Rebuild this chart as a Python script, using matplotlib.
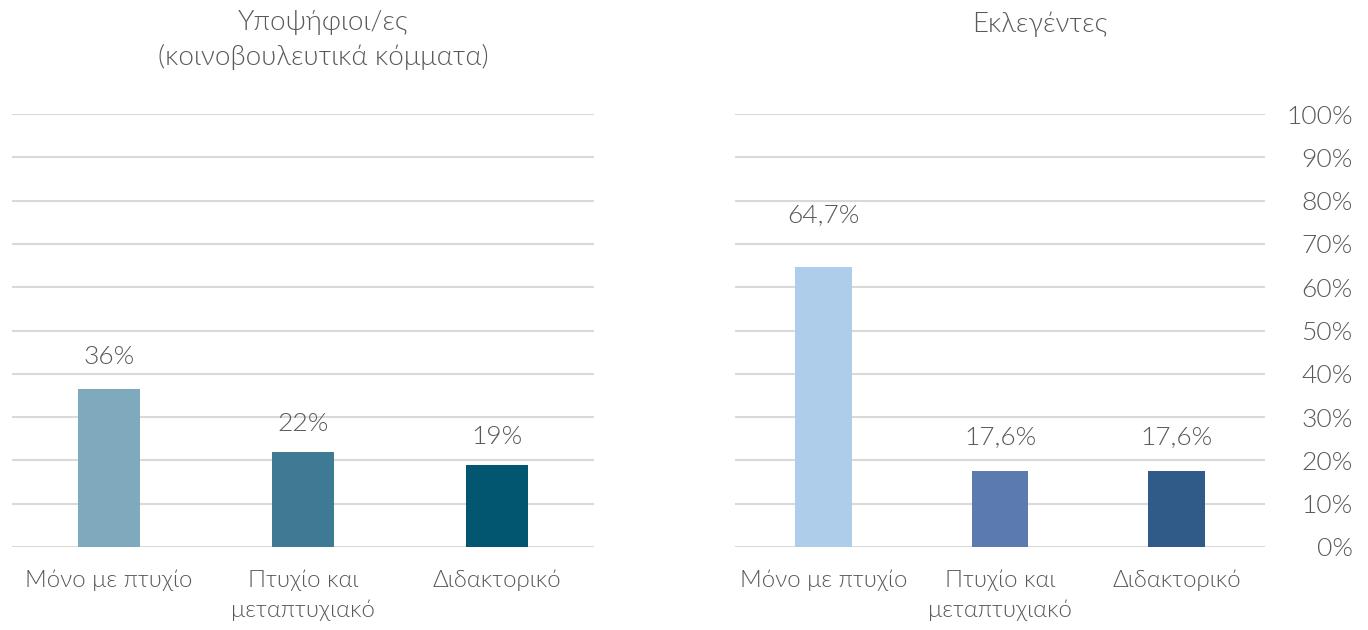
import matplotlib
matplotlib.use("Agg")
import matplotlib.pyplot as plt

categories = ["Μόνο με πτυχίο", "Πτυχίο και\nμεταπτυχιακό", "Διδακτορικό"]
candidates = [36.5, 22.0, 19.0]
candidate_labels = ["36%", "22%", "19%"]
elected = [64.7, 17.6, 17.6]
elected_labels = ["64,7%", "17,6%", "17,6%"]
yticks = [0, 10, 20, 30, 40, 50, 60, 70, 80, 90, 100]
ytick_labels = [f"{v}%" for v in yticks]
title_left = "Υποψήφιοι/ες\n(κοινοβουλευτικά κόμματα)"
title_right = "Εκλεγέντες"

colors_left = ["#7FA9BC", "#3E7A94", "#02566F"]
colors_right = ["#ADCDEB", "#5B7BAF", "#305B88"]

plt.rcParams['font.family'] = ['Lato', 'Noto Sans', 'DejaVu Sans']
W = 300
TXT = "#595959"
GRID = "#D9D9D9"

fig = plt.figure(figsize=(13.68, 6.3), dpi=100)
ax1 = fig.add_axes([12/1368, 83/630, 582/1368, 433/630])
ax2 = fig.add_axes([735/1368, 83/630, 530/1368, 433/630])

def style(ax, vals, labels, colors, width, offsets):
    x = list(range(len(vals)))
    ax.bar(x, vals, width=width, color=colors, zorder=3)
    ax.set_xlim(-0.5, len(vals) - 0.5)
    ax.set_ylim(0, 100)
    ax.set_yticks(yticks)
    ax.grid(axis='y', color=GRID, linewidth=1.5, zorder=0)
    ax.set_axisbelow(True)
    for s in ax.spines.values():
        s.set_visible(False)
    ax.set_xticks(x)
    ax.set_xticklabels(categories, fontsize=17.3, color=TXT, linespacing=1.5,
                       fontweight=W)
    ax.tick_params(axis='x', length=0, pad=16)
    for xi, v, lab, off in zip(x, vals, labels, offsets):
        ax.annotate(lab, (xi, v), xytext=(0, off), textcoords='offset points',
                    ha='center', va='center', fontsize=19, color=TXT,
                    fontweight=W)

style(ax1, candidates, candidate_labels, colors_left, 0.315, [23, 20, 20])
ax1.tick_params(axis='y', length=0, labelleft=False)

style(ax2, elected, elected_labels, colors_right, 0.32, [37, 24, 24])
ax2.yaxis.tick_right()
ax2.set_yticklabels(ytick_labels, fontsize=19, color=TXT, ha='right',
                    fontweight=W)
ax2.tick_params(axis='y', length=0, pad=63)

fig.text(323/1368, 1 - 40/630, title_left, ha='center', va='center',
         fontsize=20, color=TXT, linespacing=1.45, fontweight=W)
fig.text(1040/1368, 1 - 24/630, title_right, ha='center', va='center',
         fontsize=20, color=TXT, fontweight=W)

fig.savefig("out.png", dpi=100, facecolor="white")
